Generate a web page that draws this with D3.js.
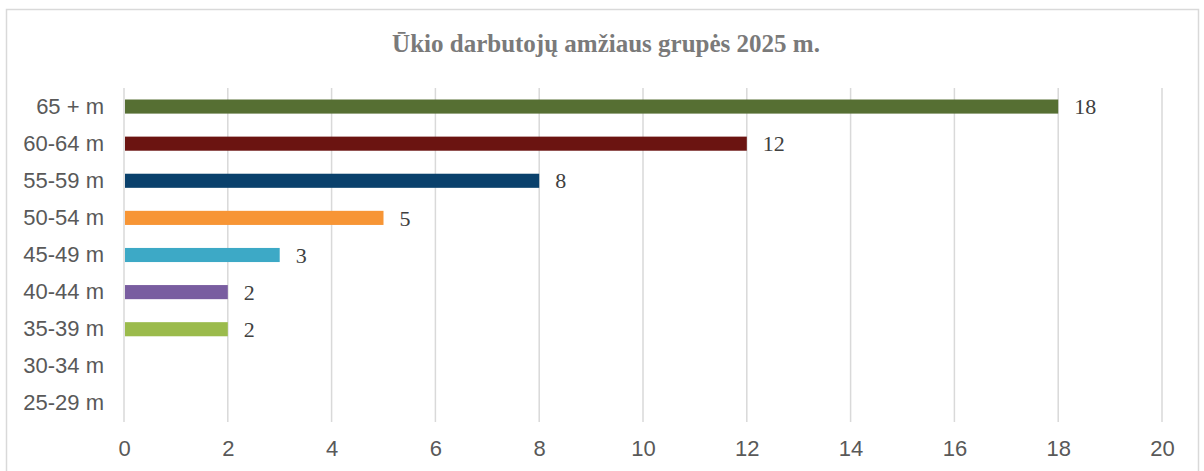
<!DOCTYPE html>
<html>
<head>
<meta charset="utf-8">
<script src="https://cdn.jsdelivr.net/npm/d3@7/dist/d3.min.js"></script>
<style>
  html, body { margin: 0; padding: 0; background: #fff; }
  svg { display: block; }
</style>
</head>
<body>
<svg id="chart" width="1204" height="471"></svg>
<script>
const title = "Ūkio darbutojų amžiaus grupės 2025 m.";
const categories = ["65 + m", "60-64 m", "55-59 m", "50-54 m", "45-49 m", "40-44 m", "35-39 m", "30-34 m", "25-29 m"];
const values = [18, 12, 8, 5, 3, 2, 2, null, null];
const colors = ["#566F33", "#6B1411", "#0A416C", "#F79535", "#3DA9C6", "#795DA0", "#9BBB4C", "#999999", "#999999"];
const xTicks = [0, 2, 4, 6, 8, 10, 12, 14, 16, 18, 20];

const SANS = "'Liberation Sans', Arial, sans-serif";
const SERIF = "'Liberation Serif', 'Times New Roman', serif";

const svg = d3.select("#chart");

// outer frame
svg.append("rect")
  .attr("x", 6.5).attr("y", 9.5)
  .attr("width", 1192).attr("height", 480)
  .attr("fill", "none").attr("stroke", "#D9D9D9").attr("stroke-width", 1.5);

const plot = { left: 124, right: 1162, top: 88, bottom: 422 };

const x = d3.scaleLinear().domain([0, 20]).range([plot.left, plot.right]);
const y = d3.scaleBand().domain(categories).range([plot.top, plot.bottom]).paddingInner(0.62).paddingOuter(0.31);

// gridlines
svg.append("g").selectAll("line").data(xTicks).join("line")
  .attr("x1", d => x(d)).attr("x2", d => x(d))
  .attr("y1", plot.top).attr("y2", plot.bottom)
  .attr("stroke", "#D9D9D9").attr("stroke-width", 1.5);

// x axis labels
const xAxis = d3.axisBottom(x).tickValues(xTicks).tickSize(0).tickPadding(0);
const gx = svg.append("g").attr("transform", `translate(0,${plot.bottom})`).call(xAxis);
gx.select(".domain").remove();
gx.selectAll("text")
  .attr("y", 26).attr("dy", "0.35em")
  .style("font-family", SANS)
  .style("font-size", "22px").attr("fill", "#595959");

// y axis labels
const yAxis = d3.axisLeft(y).tickSize(0).tickPadding(20);
const gy = svg.append("g").attr("transform", `translate(${plot.left},0)`).call(yAxis);
gy.select(".domain").remove();
gy.selectAll("text")
  .style("font-family", SANS)
  .style("font-size", "22px").attr("fill", "#595959");

// bars
const data = categories.map((c, i) => ({ c, v: values[i], color: colors[i] })).filter(d => d.v != null);
svg.append("g").selectAll("rect").data(data).join("rect")
  .attr("x", x(0) + 1)
  .attr("y", d => y(d.c))
  .attr("width", d => x(d.v) - x(0) - 1)
  .attr("height", y.bandwidth())
  .attr("fill", d => d.color);

// data labels
svg.append("g").selectAll("text").data(data).join("text")
  .attr("x", d => x(d.v) + 16)
  .attr("y", d => y(d.c) + y.bandwidth() / 2)
  .attr("dy", "0.35em")
  .style("font-family", SERIF)
  .style("font-size", "22px").attr("fill", "#404040")
  .text(d => d.v);

// title
svg.append("text")
  .attr("x", 606).attr("y", 52)
  .attr("text-anchor", "middle")
  .style("font-family", SERIF)
  .style("font-weight", "bold")
  .style("font-size", "25px").attr("fill", "#7A7A7A")
  .text(title);
</script>
</body>
</html>
